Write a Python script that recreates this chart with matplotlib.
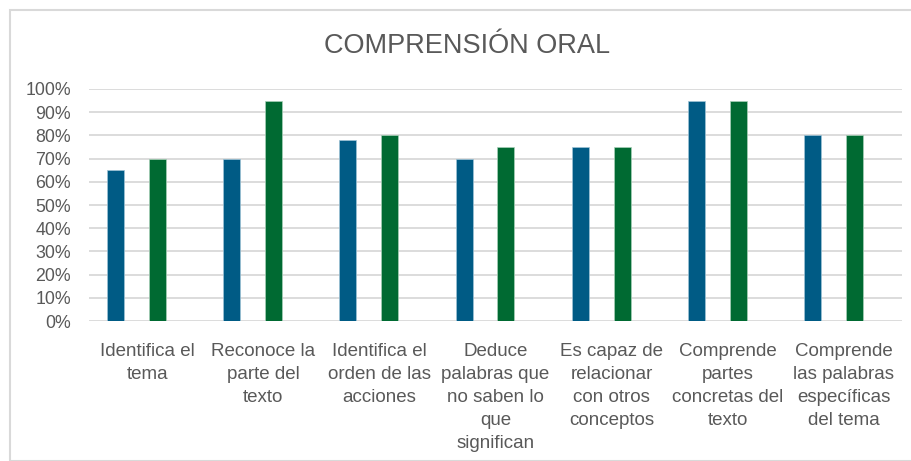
import matplotlib
matplotlib.use("Agg")
import matplotlib.pyplot as plt
from matplotlib import font_manager
from matplotlib.patches import Rectangle
from matplotlib.ticker import FuncFormatter
import numpy as np

categories = [
    "Identifica el\ntema",
    "Reconoce la\nparte del\ntexto",
    "Identifica el\norden de las\nacciones",
    "Deduce\npalabras que\nno saben lo\nque\nsignifican",
    "Es capaz de\nrelacionar\ncon otros\nconceptos",
    "Comprende\npartes\nconcretas del\ntexto",
    "Comprende\nlas palabras\nespecíficas\ndel tema",
]
serie_azul = [0.65, 0.70, 0.78, 0.70, 0.75, 0.95, 0.80]
serie_verde = [0.70, 0.95, 0.80, 0.75, 0.75, 0.95, 0.80]
y_ticks = [0.0, 0.1, 0.2, 0.3, 0.4, 0.5, 0.6, 0.7, 0.8, 0.9, 1.0]

names = {f.name for f in font_manager.fontManager.ttflist}
narrow = "Liberation Sans Narrow" if "Liberation Sans Narrow" in names else "Liberation Sans"

W, H = 911, 461
fig = plt.figure(figsize=(W / 100, H / 100), dpi=100)
fig.patches.append(Rectangle((10 / W, 0), 1, 1 - 10 / H, transform=fig.transFigure,
                             facecolor="white", edgecolor="#d9d9d9", linewidth=1.5, zorder=-5))

ax = fig.add_axes([89 / W, 1 - 321 / H, (902 - 89) / W, (321 - 89) / H])
ax.set_facecolor("none")
x = np.arange(len(categories))
bw = 0.146
ax.bar(x - 0.271, serie_azul, width=bw, color="#005B85", edgecolor="#9fc3d6", linewidth=0.5, zorder=3)
ax.bar(x + 0.090, serie_verde, width=bw, color="#006A32", edgecolor="#a8d0b8", linewidth=0.5, zorder=3)

ax.set_xlim(-0.5, len(categories) - 0.5)
ax.set_ylim(0, 1)
ax.set_yticks(y_ticks)
ax.yaxis.set_major_formatter(FuncFormatter(lambda v, p: f"{v*100:.0f}%"))
ax.grid(axis="y", color="#d9d9d9", linewidth=1.3, zorder=0)
ax.set_axisbelow(True)
for s in ax.spines.values():
    s.set_visible(False)
ax.tick_params(axis="y", length=0, pad=13, labelsize=12.8, labelcolor="#595959")
for lab in ax.get_yticklabels():
    lab.set_fontfamily("Liberation Sans")
ax.set_xticks(x)
ax.set_xticklabels(categories, fontsize=13.5, color="#595959", family=[narrow, "DejaVu Sans"],
                   linespacing=1.47)
ax.tick_params(axis="x", length=0, pad=15.5)

fig.text(467 / W, 1 - 46 / H, "COMPRENSIÓN ORAL", ha="center", va="center",
         fontsize=19.5, color="#595959", family="Liberation Sans")

fig.savefig("out.png", dpi=100)
